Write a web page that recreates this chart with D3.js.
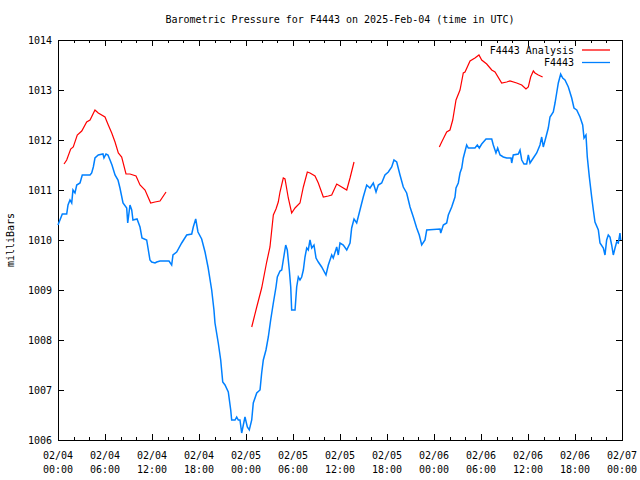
<!DOCTYPE html>
<html><head><meta charset="utf-8">
<script src="https://cdn.jsdelivr.net/npm/d3@7"></script>
<style>body{margin:0;background:#fff}svg{display:block}text{font-family:"DejaVu Sans Mono",monospace;font-size:10px;fill:#000}</style>
</head><body>
<script>
const title = "Barometric Pressure for F4443 on 2025-Feb-04 (time in UTC)";
const yLabel = "milliBars";
const seriesNames = ["F4443 Analysis", "F4443"];
const yTicks = [1006,1007,1008,1009,1010,1011,1012,1013,1014];
const xTickHours = [0,6,12,18,24,30,36,42,48,54,60,66,72];
const xTickLabels = [["02/04","00:00"],["02/04","06:00"],["02/04","12:00"],["02/04","18:00"],["02/05","00:00"],["02/05","06:00"],["02/05","12:00"],["02/05","18:00"],["02/06","00:00"],["02/06","06:00"],["02/06","12:00"],["02/06","18:00"],["02/07","00:00"]];
// hours since 2025-02-04 00:00 UTC
const obsHours = [0,0.55,1.11,1.28,1.53,1.75,1.91,2.17,2.39,2.81,3.10,4.09,4.30,4.51,4.72,5.14,5.74,5.87,6.13,6.38,6.64,6.89,7.28,7.66,7.91,8.30,8.77,8.90,9.19,9.41,9.57,10.09,10.47,10.72,11.32,11.49,11.74,11.96,12.38,12.60,13.02,14.17,14.51,14.68,15.15,15.79,16.43,17.07,17.27,17.58,17.87,18.34,18.77,19.15,19.62,19.91,20.04,20.46,20.77,21.03,21.32,21.74,22.05,22.17,22.60,22.81,23.02,23.23,23.45,23.58,23.87,24.17,24.42,24.73,24.93,25.37,25.79,26.00,26.21,26.55,26.85,27.15,27.49,27.83,28.00,28.34,28.56,28.76,29.07,29.27,29.53,29.71,29.83,30.26,30.47,30.68,30.89,31.11,31.32,31.53,31.75,31.95,32.17,32.39,32.68,32.94,33.23,33.66,34.21,34.51,34.94,35.14,35.58,35.78,36.00,36.42,36.86,37.28,37.49,37.79,38.13,38.55,38.97,39.41,39.83,40.25,40.60,40.89,41.32,41.74,42.17,42.60,42.89,43.24,43.66,44.08,44.51,44.94,45.36,45.79,46.12,46.43,46.85,47.07,48.77,48.86,49.19,49.62,49.83,50.26,50.68,50.81,51.10,51.32,51.54,51.74,52.17,52.38,53.23,53.53,53.78,54.09,54.64,55.37,55.57,55.91,56.13,56.43,56.85,57.28,57.83,57.92,58.12,58.76,58.98,59.20,59.49,59.83,60.04,60.26,60.68,61.11,61.53,61.75,61.95,62.26,62.59,62.81,63.23,63.45,63.66,63.87,64.17,64.43,64.72,65.15,65.58,65.87,66.22,66.64,66.98,67.15,67.40,67.57,67.83,68.13,68.34,68.55,68.98,69.19,69.62,69.83,70.04,70.25,70.47,70.68,70.89,71.11,71.32,71.53,71.74,71.83];
const obsValues = [1010.30,1010.52,1010.52,1010.70,1010.80,1010.74,1011.00,1010.94,1011.10,1011.14,1011.30,1011.30,1011.34,1011.46,1011.64,1011.70,1011.72,1011.64,1011.72,1011.70,1011.60,1011.50,1011.30,1011.20,1011.04,1010.74,1010.64,1010.34,1010.70,1010.60,1010.40,1010.42,1010.26,1010.04,1010.00,1009.84,1009.60,1009.56,1009.54,1009.56,1009.58,1009.58,1009.50,1009.70,1009.76,1009.94,1010.10,1010.12,1010.26,1010.42,1010.16,1010.02,1009.76,1009.46,1009.00,1008.60,1008.34,1007.94,1007.60,1007.16,1007.10,1006.96,1006.60,1006.40,1006.40,1006.46,1006.40,1006.40,1006.14,1006.24,1006.46,1006.26,1006.20,1006.40,1006.74,1006.94,1007.00,1007.34,1007.60,1007.80,1008.06,1008.40,1008.74,1009.06,1009.26,1009.38,1009.40,1009.60,1009.90,1009.80,1009.40,1009.06,1008.60,1008.60,1009.06,1009.26,1009.20,1009.26,1009.40,1009.66,1009.84,1009.80,1010.00,1009.84,1009.90,1009.64,1009.56,1009.46,1009.30,1009.50,1009.70,1009.64,1009.86,1009.70,1009.94,1009.90,1009.80,1009.94,1010.24,1010.42,1010.34,1010.60,1010.86,1011.10,1011.04,1011.14,1010.96,1011.10,1011.14,1011.30,1011.36,1011.46,1011.60,1011.56,1011.30,1011.06,1010.94,1010.66,1010.46,1010.24,1010.10,1009.90,1010.00,1010.20,1010.22,1010.14,1010.30,1010.34,1010.50,1010.66,1010.86,1011.04,1011.14,1011.34,1011.44,1011.64,1011.90,1011.84,1011.84,1011.90,1011.84,1011.92,1012.02,1012.02,1011.90,1011.74,1011.84,1011.70,1011.66,1011.64,1011.64,1011.54,1011.70,1011.72,1011.80,1011.60,1011.52,1011.52,1011.70,1011.54,1011.64,1011.74,1011.90,1012.06,1011.86,1012.04,1012.24,1012.46,1012.56,1012.74,1012.94,1013.14,1013.32,1013.24,1013.20,1013.06,1012.84,1012.64,1012.60,1012.46,1012.30,1012.04,1012.10,1011.66,1011.26,1010.86,1010.60,1010.36,1010.20,1009.94,1009.84,1009.70,1010.00,1010.10,1010.06,1009.90,1009.70,1009.84,1009.96,1009.94,1010.14,1010.00];
// analysis: null marks a gap between segments
const analysisHours = [0.77,1.11,1.62,1.95,2.46,3.03,3.66,4.09,4.72,5.14,6.00,6.42,6.86,7.28,7.70,8.13,8.68,9.19,9.96,10.47,11.11,11.83,12.38,13.02,13.79,null,24.73,25.37,26.00,26.64,27.06,27.49,27.83,28.12,28.34,28.76,28.98,29.40,29.83,30.26,30.89,31.32,31.83,32.17,32.81,33.23,33.87,34.51,34.94,35.58,36.00,36.86,37.28,37.79,null,48.68,48.98,49.62,50.04,50.39,50.81,51.32,51.74,51.96,52.60,53.23,53.74,54.09,54.73,55.37,55.79,56.64,57.28,57.70,58.56,59.20,59.74,60.04,60.34,60.68,60.89,61.32,61.87];
const analysisValues = [1011.52,1011.60,1011.82,1011.86,1012.10,1012.18,1012.36,1012.40,1012.60,1012.54,1012.46,1012.30,1012.14,1011.96,1011.74,1011.66,1011.32,1011.32,1011.28,1011.10,1011.00,1010.74,1010.76,1010.78,1010.96,null,1008.26,1008.66,1009.04,1009.56,1009.86,1010.50,1010.62,1010.76,1010.96,1011.24,1011.22,1010.84,1010.54,1010.64,1010.74,1011.06,1011.36,1011.34,1011.28,1011.14,1010.86,1010.88,1010.90,1011.12,1011.08,1011.00,1011.24,1011.56,null,1011.86,1011.96,1012.16,1012.20,1012.40,1012.80,1013.00,1013.34,1013.36,1013.58,1013.64,1013.70,1013.60,1013.52,1013.40,1013.36,1013.14,1013.16,1013.18,1013.14,1013.10,1013.02,1013.06,1013.26,1013.38,1013.34,1013.30,1013.26];

const W=640,H=480, L=58, R=622, T=40, B=440;
const t0 = Date.UTC(2025,1,4,0,0);
const hd = h => new Date(t0 + h*3600000);
const x = d3.scaleUtc().domain([hd(0), hd(72)]).range([L,R]);
const y = d3.scaleLinear().domain([1006,1014]).range([B,T]);

const svg = d3.select("body").append("svg").attr("width",W).attr("height",H);
const minorTicks = d3.range(0,73,2).map(hd);
const majorTicks = xTickHours.map(hd);

function ax(g, axis){ g.call(axis); g.select(".domain").remove(); g.selectAll("text").remove(); g.selectAll("line").attr("stroke","#000").attr("shape-rendering","crispEdges"); }
svg.append("g").attr("transform",`translate(0,${B})`).call(g=>ax(g,d3.axisBottom(x).tickValues(minorTicks).tickSize(-3)));
svg.append("g").attr("transform",`translate(0,${B})`).call(g=>ax(g,d3.axisBottom(x).tickValues(majorTicks).tickSize(-6)));
svg.append("g").attr("transform",`translate(0,${T})`).call(g=>ax(g,d3.axisTop(x).tickValues(minorTicks).tickSize(-3)));
svg.append("g").attr("transform",`translate(0,${T})`).call(g=>ax(g,d3.axisTop(x).tickValues(majorTicks).tickSize(-6)));
svg.append("g").attr("transform",`translate(${L},0)`).call(g=>ax(g,d3.axisLeft(y).tickValues(yTicks).tickSize(-6)));
svg.append("g").attr("transform",`translate(${R},0)`).call(g=>ax(g,d3.axisRight(y).tickValues(yTicks).tickSize(-6)));

svg.append("rect").attr("x",L+0.5).attr("y",T+0.5).attr("width",R-L).attr("height",B-T)
  .attr("fill","none").attr("stroke","#000").attr("stroke-width",1);

svg.append("g").selectAll("text").data(yTicks).join("text")
  .attr("x",L-6).attr("y",d=>y(d)).attr("dy","0.35em").attr("text-anchor","end").text(d=>d);
const xl = svg.append("g").selectAll("text").data(xTickHours).join("text")
  .attr("text-anchor","middle");
xl.append("tspan").attr("x",(d)=>x(hd(d))).attr("y",B+19).text((d,i)=>xTickLabels[i][0]);
xl.append("tspan").attr("x",(d)=>x(hd(d))).attr("y",B+33).text((d,i)=>xTickLabels[i][1]);

svg.append("text").attr("x",340).attr("y",23).attr("text-anchor","middle").text(title);
svg.append("text").attr("transform","translate(14,240) rotate(-90)").attr("text-anchor","middle").text(yLabel);

const obs = obsHours.map((h,i)=>({t:hd(h),v:obsValues[i]}));
const ana = analysisHours.map((h,i)=>({t:h===null?null:hd(h),v:analysisValues[i]}));
const line = d3.line().defined(d=>d.v!==null).x(d=>x(d.t)).y(d=>y(d.v)).curve(d3.curveLinear);

svg.append("path").datum(ana).attr("d",line).attr("fill","none").attr("stroke","#ff0000").attr("stroke-width",1.2);
svg.append("path").datum(obs).attr("d",line).attr("fill","none").attr("stroke","#0080ff").attr("stroke-width",1.5);

// legend
const legColors = ["#ff0000","#0080ff"];
const lg = svg.append("g");
seriesNames.forEach((n,i)=>{
  const yy = 50 + i*12.5;
  lg.append("text").attr("x",574).attr("y",yy).attr("dy","0.35em").attr("text-anchor","end").text(n);
  lg.append("line").attr("x1",582).attr("x2",610).attr("y1",yy).attr("y2",yy).attr("stroke",legColors[i]).attr("stroke-width",1.3);
});
</script>
</body></html>
